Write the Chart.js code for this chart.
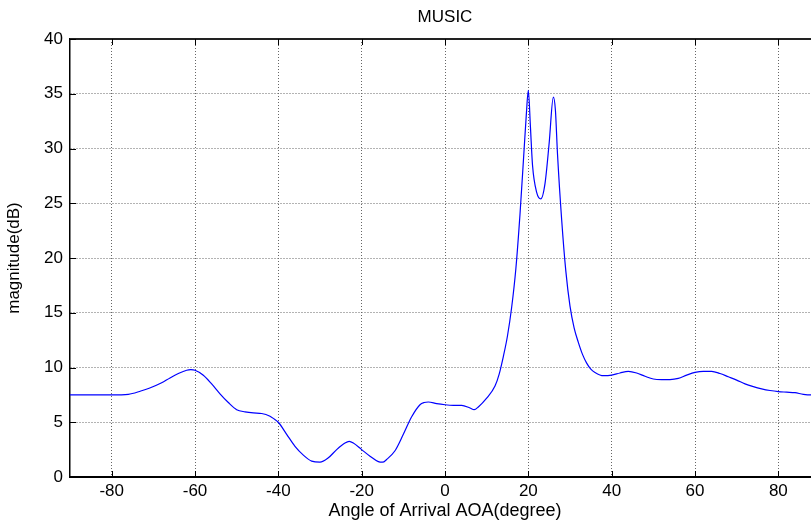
<!DOCTYPE html>
<html>
<head>
<meta charset="utf-8">
<script src="https://cdn.jsdelivr.net/npm/chart.js@4/dist/chart.umd.min.js"></script>
<style>
html,body{margin:0;padding:0;background:#fff;overflow:hidden;}
#wrap{position:relative;width:840px;height:526px;}
</style>
</head>
<body>
<div id="wrap"><canvas id="c" width="840" height="526"></canvas></div>
<script>
// Data
const angles = [-90,-85,-80,-76,-73,-71,-68,-66,-64,-62,-61,-60,-58,-56,-54,-52,-50,-48,-46,-44,-42,-41,-40,-38,-36,-34,-32,-30,-28,-26,-24,-23,-22,-20,-18,-16,-15,-14,-12,-10,-8,-6,-5,-4,-2,0,2,4,6,7,8,10,12,13,14,15,16,17,18,19,19.5,20,20.5,21,22,23,24,25,26,26.5,27,28,29,30,31,32,33,34,35,36,38,40,42,44,46,48,50,52,54,56,58,60,62,64,66,68,70,72,74,76,78,80,82,84,86,88,90];
const magnitude = [7.5,7.5,7.5,7.55,7.85,8.1,8.6,9.05,9.45,9.75,9.8,9.75,9.3,8.5,7.6,6.8,6.15,5.95,5.85,5.8,5.55,5.3,5.0,3.9,2.8,2.0,1.45,1.35,1.75,2.5,3.1,3.25,3.1,2.5,1.9,1.4,1.35,1.6,2.4,3.9,5.5,6.6,6.8,6.85,6.7,6.6,6.55,6.55,6.3,6.15,6.4,7.2,8.3,9.4,11.0,12.9,15.5,19.0,24.0,30.0,33.0,35.3,32.0,28.5,26.0,25.4,26.8,30.5,34.7,33.5,29.5,23.5,18.8,15.6,13.6,12.3,11.2,10.4,9.85,9.55,9.25,9.3,9.5,9.65,9.5,9.2,8.95,8.9,8.9,9.0,9.3,9.55,9.65,9.65,9.45,9.15,8.85,8.5,8.25,8.05,7.9,7.8,7.75,7.7,7.55,7.5,7.5];
const xTicks = [-80,-60,-40,-20,0,20,40,60,80];
const yTicks = [0,5,10,15,20,25,30,35,40];
const chartTitle = 'MUSIC';
const xTitle = 'Angle of Arrival AOA(degree)';
const yTitle = 'magnitude(dB)';

const points = angles.map((a,i)=>({x:a,y:magnitude[i]}));
const FONT = 'Liberation Sans, Arial, sans-serif';

const matlabTicks = {
  id:'matlabTicks',
  afterDraw(chart){
    const {ctx, chartArea:a, scales:{x,y}} = chart;
    ctx.save();
    ctx.strokeStyle = '#222';
    ctx.lineWidth = 2;
    ctx.beginPath(); ctx.moveTo(a.left, a.top); ctx.lineTo(a.right, a.top); ctx.stroke();
    ctx.strokeStyle = '#000';
    ctx.lineWidth = 1;
    ctx.beginPath();
    xTicks.forEach(v=>{
      const px = Math.round(x.getPixelForValue(v))+0.5;
      ctx.moveTo(px, a.bottom); ctx.lineTo(px, a.bottom-6);
      ctx.moveTo(px, a.top); ctx.lineTo(px, a.top+6);
    });
    yTicks.forEach(v=>{
      const py = Math.round(y.getPixelForValue(v))+0.5;
      ctx.moveTo(a.left, py); ctx.lineTo(a.left+6, py);
    });
    ctx.stroke();
    ctx.fillStyle = '#000';
    ctx.font = '17px ' + FONT;
    ctx.textAlign = 'center';
    ctx.textBaseline = 'middle';
    ctx.fillText(chartTitle, (a.left+a.right)/2, 17);
    ctx.restore();
  }
};

new Chart(document.getElementById('c'), {
  type:'line',
  data:{datasets:[{data:points, borderColor:'#0000ff', borderWidth:1.2, pointRadius:0, fill:false, cubicInterpolationMode:'monotone'}]},
  options:{
    responsive:false, animation:false, devicePixelRatio:1,
    layout:{padding:{top:39, right:20, left:0, bottom:0}},
    plugins:{legend:{display:false}, tooltip:{enabled:false}, title:{display:false}},
    scales:{
      x:{type:'linear', min:-90, max:90,
        afterBuildTicks(s){ s.ticks = xTicks.map(v=>({value:v})); },
        afterFit(s){ s.height = 49; },
        ticks:{color:'#000', font:{family:FONT, size:17}, padding:4, maxRotation:0, autoSkip:false},
        grid:{color:'#666', lineWidth:1, drawTicks:false},
        border:{display:true, color:'#000', width:2, dash:[1,2]},
        title:{display:true, text:xTitle, color:'#000', font:{family:FONT, size:18}, padding:{top:0,bottom:4}}
      },
      y:{type:'linear', min:0, max:40,
        afterBuildTicks(s){ s.ticks = yTicks.map(v=>({value:v})); },
        afterFit(s){ s.width = 70; },
        ticks:{color:'#000', font:{family:FONT, size:17}, padding:7},
        grid:{color:'#666', lineWidth:1, drawTicks:false},
        border:{display:true, color:'#000', width:1.5, dash:[1,2]},
        title:{display:true, text:yTitle, color:'#000', font:{family:FONT, size:17}, padding:{top:4,bottom:0}}
      }
    }
  },
  plugins:[matlabTicks]
});
</script>
</body>
</html>
